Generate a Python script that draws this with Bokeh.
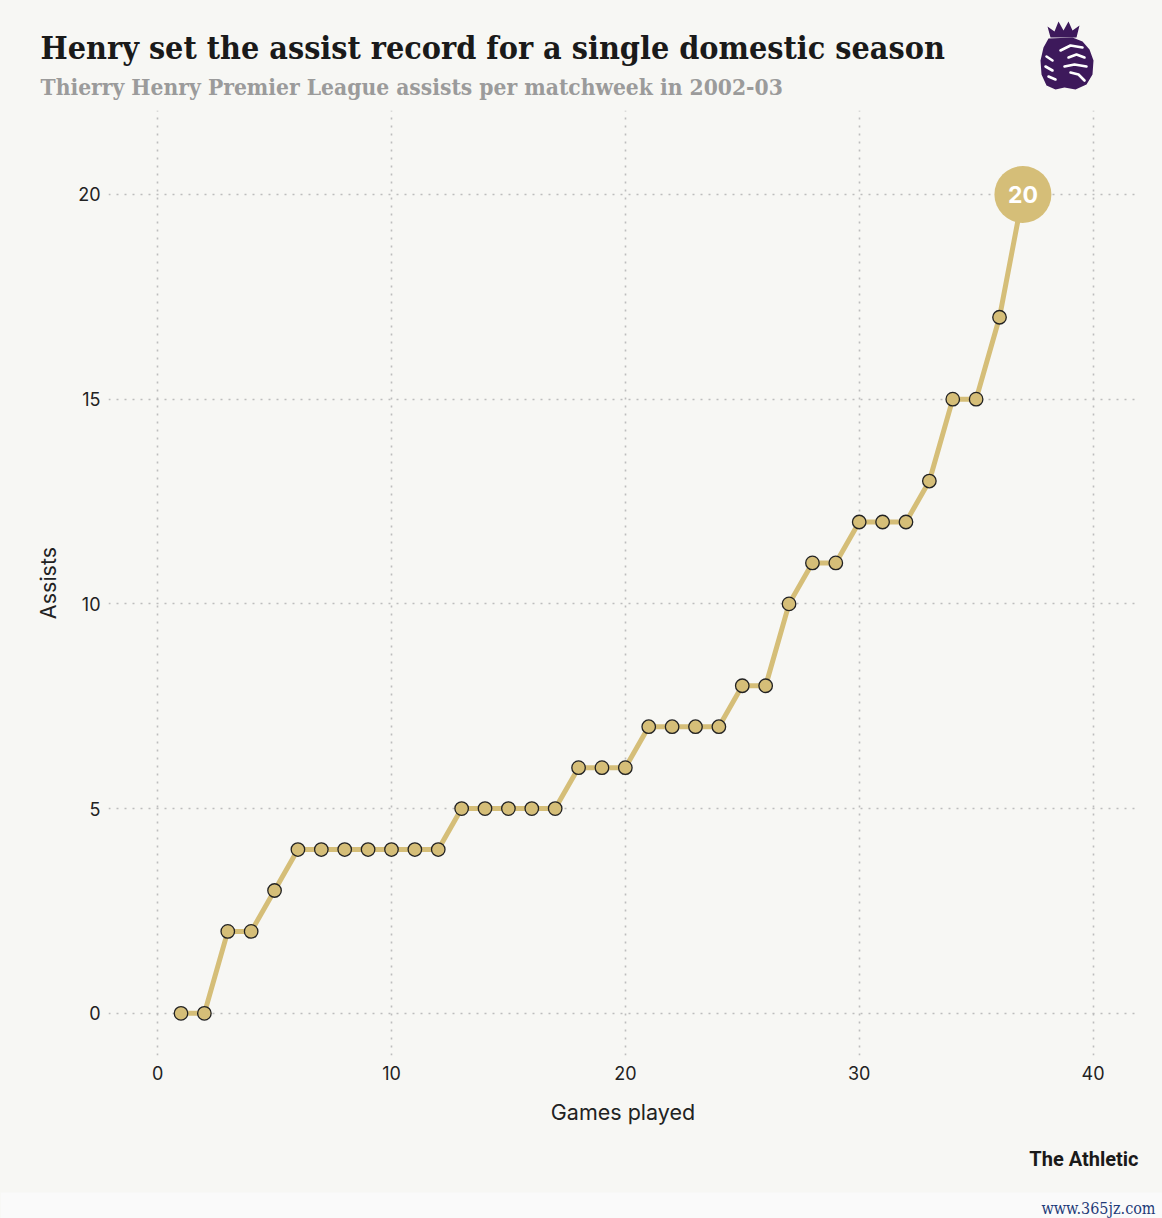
from bokeh.plotting import figure
from bokeh.models import FixedTicker, ColumnDataSource, Range1d
from bokeh.layouts import column
from bokeh.core.properties import value
from bokeh.embed import file_html
from bokeh.resources import INLINE

games = list(range(1, 38))
assists = [0, 0, 2, 2, 3, 4, 4, 4, 4, 4, 4, 4, 5, 5, 5, 5, 5, 6, 6, 6,
           7, 7, 7, 7, 8, 8, 10, 11, 11, 12, 12, 12, 13, 15, 15, 17, 20]
x_ticks = [0, 10, 20, 30, 40]
y_ticks = [0, 5, 10, 15, 20]
title_text = "Henry set the assist record for a single domestic season"
subtitle_text = "Thierry Henry Premier League assists per matchweek in 2002-03"
x_label = "Games played"
y_label = "Assists"
source_text = "The Athletic"
watermark_text = "www.365jz.com"

BG = "#f7f7f4"
GOLD = "#d5be78"
INK = "#222222"
SANS = "Inter"
SERIF = "DejaVu Serif Condensed, DejaVu Serif"
W = 1162
HEAD_H, MAIN_H, FOOT_H = 110, 1020, 88

FL, FW, FH = 108, 1029, 945
X0, X1 = -2.1, 41.9
Y0, Y1 = -1.03, 22.05


def blank(h):
    f = figure(width=W, height=h, x_range=Range1d(0, W), y_range=Range1d(h, 0),
               output_backend="svg", toolbar_location=None,
               x_axis_type=None, y_axis_type=None,
               background_fill_color=BG, border_fill_color=BG,
               min_border=0, frame_width=W, frame_height=h)
    f.outline_line_color = None
    f.grid.visible = False
    try:
        f.frame_align = False
    except Exception:
        pass
    return f


# ---- header ----
head = blank(HEAD_H)
head.text(x=[40], y=[47], text=[title_text], text_font=value(SERIF),
          text_font_style="bold", text_font_size="32px", text_color="#1a1a1a",
          text_baseline="alphabetic")
head.text(x=[40], y=[86], text=[subtitle_text], text_font=value(SERIF),
          text_font_style="bold", text_font_size="22.6px", text_color="#9b9b9b",
          text_baseline="alphabetic")
PURPLE = "#3d195b"
crown = [(1050, 37), (1047, 26), (1054, 31), (1058, 21), (1063, 30), (1068, 21),
         (1072, 30), (1079, 25), (1076, 37)]
lion = [(1048, 38), (1072, 37), (1082, 41), (1089, 49), (1093, 60), (1092, 74),
        (1086, 84), (1075, 89), (1064, 87), (1055, 89), (1046, 85), (1041, 74),
        (1040, 60), (1043, 47)]
head.patches(xs=[[a for a, b in s] for s in (crown, lion)],
             ys=[[b for a, b in s] for s in (crown, lion)],
             fill_color=PURPLE, line_color=None)
details = [
    [(1060, 50), (1070, 45), (1082, 47)],            # brow
    [(1068, 57), (1076, 54), (1084, 57)],            # eye
    [(1064, 66), (1074, 64), (1086, 66)],            # muzzle top
    [(1070, 72), (1078, 74), (1084, 80)],            # mouth
    [(1046, 56), (1052, 60)],                        # mane
    [(1045, 66), (1052, 70)],
    [(1048, 76), (1055, 79)],
]
head.multi_line(xs=[[a for a, b in s] for s in details],
                ys=[[b for a, b in s] for s in details],
                line_color="white", line_width=2.6, line_cap="round")

# ---- main chart ----
p = figure(width=W, height=MAIN_H, frame_width=FW, frame_height=FH,
           x_range=(X0, X1), y_range=(Y0, Y1),
           output_backend="svg", toolbar_location=None,
           background_fill_color=BG, border_fill_color=BG,
           min_border_left=FL, min_border_top=0, min_border_right=W - FL - FW,
           min_border_bottom=MAIN_H - FH)
p.outline_line_color = None
try:
    p.frame_align = False
except Exception:
    pass

for ax in (p.xaxis, p.yaxis):
    ax.axis_line_color = None
    ax.major_tick_line_color = None
    ax.minor_tick_line_color = None
    ax.major_label_text_font = SANS
    ax.major_label_text_font_size = "18px"
    ax.major_label_text_color = INK
    ax.axis_label_text_font = SANS
    ax.axis_label_text_font_size = "21.5px"
    ax.axis_label_text_font_style = "normal"
    ax.axis_label_text_color = INK

p.xaxis.ticker = FixedTicker(ticks=x_ticks)
p.yaxis.ticker = FixedTicker(ticks=y_ticks)
p.xaxis.axis_label = x_label
p.yaxis.axis_label = y_label
p.xaxis.major_label_standoff = 4
p.yaxis.major_label_standoff = 2
p.xaxis.axis_label_standoff = 16
p.yaxis.axis_label_standoff = 14

for g in (p.xgrid, p.ygrid):
    g.grid_line_color = "#bdbdbd"
    g.grid_line_width = 1.6
    g.grid_line_dash = "2 6"
p.xgrid.ticker = FixedTicker(ticks=x_ticks)
p.ygrid.ticker = FixedTicker(ticks=y_ticks)

src = ColumnDataSource(dict(x=games, y=assists))
p.line("x", "y", source=src, line_color=GOLD, line_width=5)
small = ColumnDataSource(dict(x=games[:-1], y=assists[:-1]))
p.scatter("x", "y", source=small, size=13.5, fill_color=GOLD,
          line_color=INK, line_width=1.3)
last = ColumnDataSource(dict(x=[games[-1]], y=[assists[-1]],
                             t=[str(assists[-1])]))
p.scatter("x", "y", source=last, size=57, fill_color=GOLD, line_color=None)
p.text("x", "y", text="t", source=last, text_color="white",
       text_font=value(SANS), text_font_style="bold", text_font_size="23px",
       text_align="center", text_baseline="middle")

# ---- footer ----
foot = blank(FOOT_H)
foot.quad(left=[0], right=[W], top=[62], bottom=[FOOT_H], fill_color="#fafafa",
          line_color=None)
foot.text(x=[1138], y=[28], text=[source_text],
          text_font=value("Roboto"), text_font_style="bold",
          text_font_size="20px", text_color="#1a1a1a", text_align="right",
          text_baseline="alphabetic")
foot.text(x=[1155], y=[78], text=[watermark_text], text_font=value(SERIF),
          text_font_size="16px", text_color="#1f3b78", text_align="right",
          text_baseline="alphabetic")

layout = column(head, p, foot, spacing=0,
                styles={"background-color": BG})
html = file_html(layout, INLINE)
html = html.replace("<body>", '<body style="background-color:%s">' % BG, 1)
open("out.html", "w").write(html)
